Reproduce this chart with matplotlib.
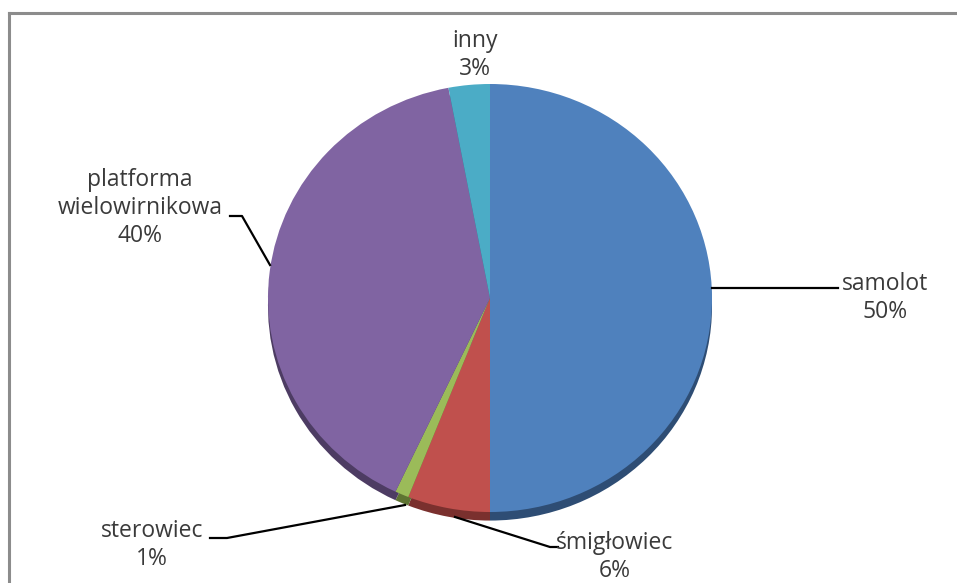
import matplotlib.pyplot as plt
from matplotlib.lines import Line2D

# data
labels = ['samolot', 'śmigłowiec', 'sterowiec', 'platforma\nwielowirnikowa', 'inny']
shares = [50, 6, 1, 40, 3]
colors = ['#4F81BD', '#C0504D', '#9BBB59', '#8064A2', '#4BACC6']
rim_colors = ['#2E4D74', '#7A302E', '#5E7432', '#4D3C63', '#2D6E80']

W, H = 957, 583
fig = plt.figure(figsize=(W / 100, H / 100), dpi=100)
plt.rcParams['font.family'] = ['Open Sans', 'DejaVu Sans']

# pie sits in a pixel box (slightly squashed, like the Excel 3D look)
px0, px1, py0, py1 = 268, 712, 84, 512
ax = fig.add_axes([px0 / W, 1 - py1 / H, (px1 - px0) / W, (py1 - py0) / H])

# darker rim underneath to fake the 3D edge
rim, _ = ax.pie(shares, colors=rim_colors, startangle=90, counterclock=False,
                center=(0, -0.04), radius=1.0)
for w in rim:
    w.set_clip_on(False)
    w.set_zorder(1)
top, _ = ax.pie(shares, colors=colors, startangle=90, counterclock=False,
                radius=1.0)
for w in top:
    w.set_clip_on(False)
    w.set_zorder(2)
ax.set_xlim(-1, 1)
ax.set_ylim(-1, 1)
ax.set_aspect('auto')
ax.axis('off')

# overlay in pixel coords for frame, labels and leader lines
ov = fig.add_axes([0, 0, 1, 1], zorder=5)
ov.set_xlim(0, W)
ov.set_ylim(H, 0)
ov.axis('off')
ov.patch.set_alpha(0)

# chart border (right and bottom are cut off in the original)
ov.add_line(Line2D([9, 9], [H + 5, 13], color='#8C8C8C', lw=2.2))
ov.add_line(Line2D([9, W + 5], [13, 13], color='#8C8C8C', lw=2.2))

label_pos = [(885, 298), (615, 557), (152, 545), (140, 208), (475, 55)]
leaders = [
    [(712, 288), (838, 288)],
    [(455, 517), (550, 547), (558, 547)],
    [(405, 505), (227, 538), (210, 538)],
    [(270, 265), (242, 216), (230, 216)],
    None,
]

for lab, val, (x, y), ld in zip(labels, shares, label_pos, leaders):
    ov.text(x, y, f'{lab}\n{val}%', ha='center', va='center', fontsize=16.5,
            color='#3A3A3A', linespacing=1.22)
    if ld:
        xs, ys = zip(*ld)
        ov.add_line(Line2D(xs, ys, color='black', lw=1.6))

fig.savefig('out.png', dpi=100)
